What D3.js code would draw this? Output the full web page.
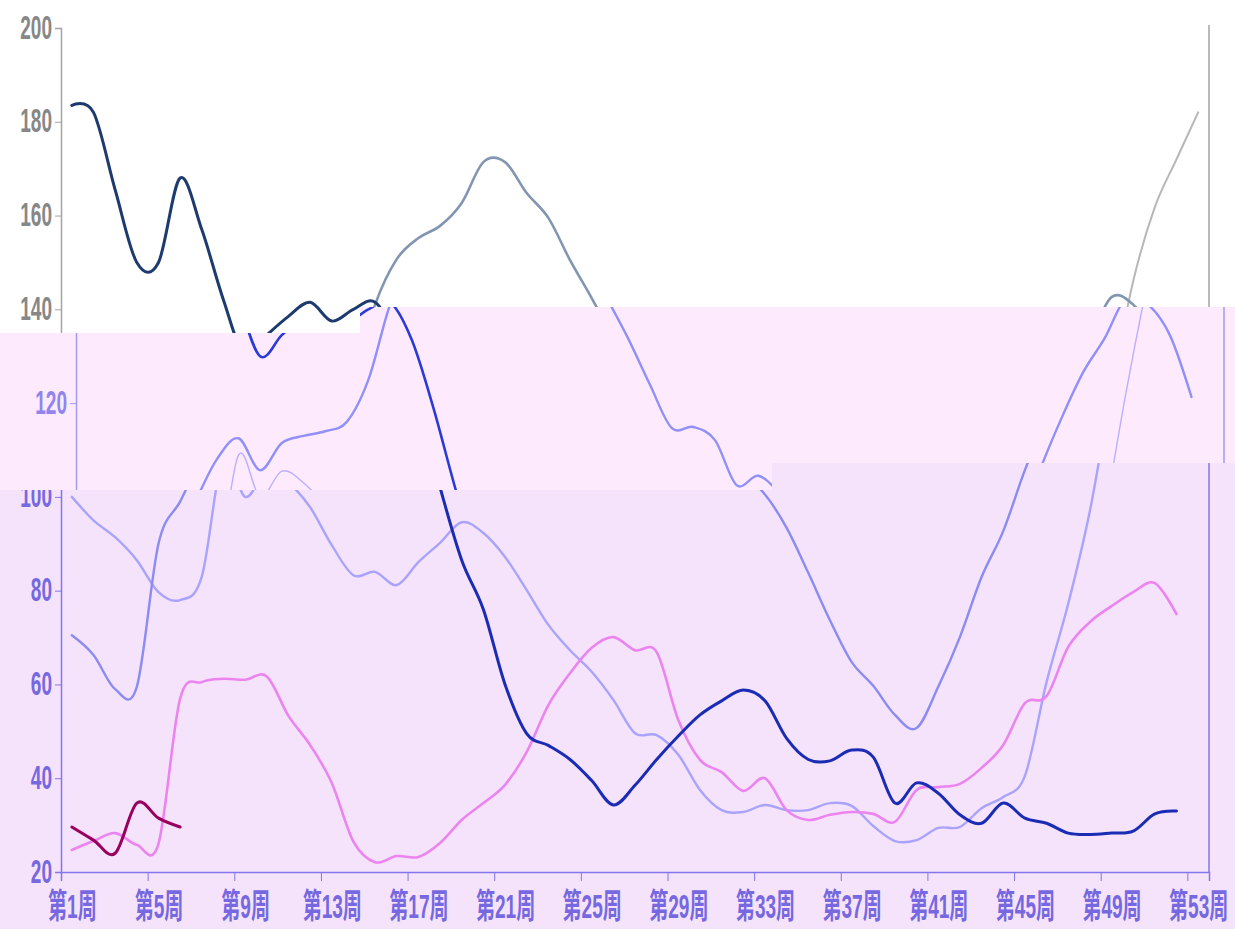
<!DOCTYPE html>
<html>
<head>
<meta charset="utf-8">
<script src="https://cdn.jsdelivr.net/npm/d3@7"></script>
<style>
  body { margin: 0; background: #fff; }
  svg { display: block; }
</style>
</head>
<body>
<div class="svg-container"></div>
<script>
//tick weeks and their labels
const tickWeeks = [1, 5, 9, 13, 17, 21, 25, 29, 33, 37, 41, 45, 49, 53];
const tickLabels = ["第1周", "第5周", "第9周", "第13周", "第17周", "第21周", "第25周",
                    "第29周", "第33周", "第37周", "第41周", "第45周", "第49周", "第53周"];
const yTicks = [20, 40, 60, 80, 100, 120, 140, 160, 180, 200];

//weekly values, index 0 = week 1
const seriesD = [183.5, 182, 165.5, 150, 150, 168, 157, 142, 130, 134.5, 138.5, 141.5, 137.5, 140,
                 141.5, 133.5, 119, 102, 86.5, 76, 60, 49.5, 47, 44, 39.5, 34.3, 38.5, 44, 49,
                 53.5, 56.5, 58.8, 56.5, 48.5, 44, 43.7, 46, 44.5, 34.7, 39, 36.8, 32.2, 30.4, 34.7,
                 31.5, 30.4, 28.3, 28, 28.3, 28.7, 32.4, 33];
const seriesB = [70.5, 66.3, 59, 59.5, 90, 99, 108, 112.5, 105.7, 111.5, 113, 114, 116, 125, 141,
                 150.7, 155.2, 157.8, 162.7, 171.4, 171.4, 164.8, 159.5, 150.5, 142.4, 133.7, 123.9,
                 114.7, 114.9, 112.1, 102.5, 104.5, 100.5, 93.4, 83.8, 73.7, 64.8, 59.7, 53.5, 50.7,
                 59.5, 70.1, 82.9, 92.7, 105.7, 116.8, 126.6, 133.9, 142.6, 141, 134.5, 121.3];
const seriesC = [100, 95, 91.4, 86.5, 79.7, 78, 83, 108.9, 100, 105.5, 103, 97.8, 89.7, 83.3, 84,
                 81.2, 86.1, 90.2, 94.6, 92.3, 87.2, 80.1, 72.7, 67.3, 62.7, 56.7, 49.6, 49.2, 45,
                 37.5, 33.2, 32.8, 34.3, 33.2, 33.2, 34.7, 34.1, 29.8, 26.6, 26.8, 29.4, 29.6, 33.6,
                 36, 40.5, 60.5, 77.2, 97, 122.8, 146, 161.8, 172, 182];
const seriesE = [24.7, 26.6, 28.3, 25.8, 26, 57, 60.5, 61.2, 61, 61.7, 53.3, 47.1, 39, 26.5, 22.1,
                 23.4, 23.2, 26.2, 31.1, 34.7, 38.6, 45.6, 55.6, 62.4, 67.8, 70.1, 67.3, 66.9, 52.4,
                 43.9, 41.3, 37.3, 40, 33.2, 31.1, 32.2, 32.8, 32.4, 30.7, 37.5, 38.1, 38.8, 42.2,
                 47.1, 56, 57.5, 68, 73.3, 76.7, 79.7, 81.6, 75];
const seriesF = [29.6, 26.8, 24, 34.7, 31.5, 29.6];

const seriesList = [
    { key: 'C', values: seriesC },
    { key: 'B', values: seriesB },
    { key: 'E', values: seriesE },
    { key: 'D', values: seriesD },
    { key: 'F', values: seriesF }
];

//dimensions
const W = 1235, H = 929;
const x = d3.scaleLinear().domain([1, 54]).range([61, 1209]);
const y = d3.scaleLinear().domain([20, 200]).range([872, 28]);
const half = (x(2) - x(1)) / 2;
const squeeze = 0.56;
const font = '"Liberation Sans", "Noto Sans CJK SC", sans-serif';

const line = d3.line()
    .x((d, i) => x(i + 1) + half)
    .y(d => y(d))
    .curve(d3.curveCardinal);

//the picture is split in three bands, each drawn in its own colour theme
const cut1 = { x: 360, left: 333, right: 307 };
const cut2 = { x: 772, left: 490, right: 463 };

const themes = [
    {
        id: 'low', shift: 0, bg: '#f5e3fc', axis: '#8276ea', text: '#7568e0',
        yLabels: [20, 40, 60, 80, 100], xLabels: true,
        poly: [[0, cut2.left], [cut2.x, cut2.left], [cut2.x, cut2.right], [W, cut2.right], [W, H], [0, H]],
        color: { D: '#1b2cb4', B: '#8b8bf1', C: '#a9a3fc', E: '#ec84ef', F: '#98005e' },
        width: { D: 3, B: 2.4, C: 2.4, E: 2.6, F: 3 }
    },
    {
        id: 'mid', shift: 15, bg: '#fdebfd', axis: '#a398f6', text: '#9084ef',
        yLabels: [120], xLabels: false,
        poly: [[0, cut1.left], [cut1.x, cut1.left], [cut1.x, cut1.right], [W, cut1.right],
               [W, cut2.right], [cut2.x, cut2.right], [cut2.x, cut2.left], [0, cut2.left]],
        color: { D: '#2b3ad6', B: '#9090f8', C: '#bbaeff', E: '#ec84ef', F: '#98005e' },
        width: { D: 2.6, B: 2.4, C: 1.4, E: 2.4, F: 3 }
    },
    {
        id: 'top', shift: 0, bg: '#ffffff', axis: '#a3a3a3', text: '#878787',
        yLabels: [140, 160, 180, 200], xLabels: false,
        poly: [[0, 0], [W, 0], [W, cut1.right], [cut1.x, cut1.right], [cut1.x, cut1.left], [0, cut1.left]],
        color: { D: '#1d3b6f', B: '#8296b2', C: '#b7b7b7', E: '#cccccc', F: '#888888' },
        width: { D: 3, B: 2.6, C: 2, E: 2, F: 2 }
    }
];

const svg = d3.select('.svg-container')
    .append('svg')
    .attr('width', W)
    .attr('height', H);

const defs = svg.append('defs');

themes.forEach(t => {
    defs.append('clipPath')
        .attr('id', 'clip-' + t.id)
        .append('polygon')
        .attr('points', t.poly.map(p => p.join(',')).join(' '));

    const g = svg.append('g').attr('clip-path', `url(#clip-${t.id})`);

    g.append('rect')
        .attr('width', W)
        .attr('height', H)
        .attr('fill', t.bg);

    const inner = g.append('g').attr('transform', `translate(${t.shift},0)`);

    //left y axis
    const yAxis = inner.append('g')
        .attr('transform', `translate(${x(1)},0)`)
        .attr('color', t.axis)
        .call(d3.axisLeft(y).tickValues(yTicks).tickSize(6).tickPadding(3));

    yAxis.selectAll('text')
        .filter(d => !t.yLabels.includes(d))
        .remove();

    yAxis.selectAll('text')
        .attr('x', -9 / squeeze)
        .attr('dy', null)
        .attr('y', 10)
        .attr('transform', `scale(${squeeze},1)`)
        .attr('fill', t.text)
        .attr('font-size', 34)
        .attr('font-weight', 'bold')
        .attr('font-family', font);

    //bottom x axis
    const xAxis = inner.append('g')
        .attr('transform', `translate(0,${y(20)})`)
        .attr('color', t.axis)
        .call(d3.axisBottom(x).tickValues(tickWeeks).tickFormat((d, i) => tickLabels[i]).tickSize(9));

    if (!t.xLabels) xAxis.selectAll('text').remove();

    xAxis.selectAll('text')
        .attr('y', 46)
        .attr('dy', null)
        .attr('transform', `translate(${half},0) scale(${squeeze},1)`)
        .attr('fill', t.text)
        .attr('font-size', 34)
        .attr('font-weight', 'bold')
        .attr('font-family', font);

    yAxis.select('.domain').attr('stroke-width', 1.5);
    xAxis.select('.domain').attr('stroke-width', 1.5);

    //right border
    inner.append('line')
        .attr('x1', x(54)).attr('x2', x(54))
        .attr('y1', y(200) - 3).attr('y2', y(20))
        .attr('stroke', t.axis)
        .attr('stroke-width', 1.5);

    //series lines
    inner.selectAll('.series')
        .data(seriesList)
        .join('path')
        .attr('class', 'series')
        .attr('d', d => line(d.values))
        .attr('fill', 'none')
        .attr('stroke', d => t.color[d.key])
        .attr('stroke-width', d => t.width[d.key])
        .attr('stroke-linejoin', 'round')
        .attr('stroke-linecap', 'round');
});
</script>
</body>
</html>
